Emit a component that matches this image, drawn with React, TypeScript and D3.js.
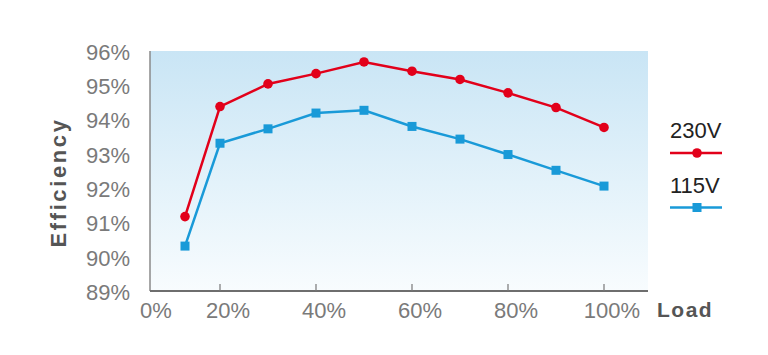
import React from "react";
import * as d3 from "d3";

const loads = [10, 20, 30, 40, 50, 60, 70, 80, 90, 100];
const eff230 = [91.17, 94.38, 95.04, 95.34, 95.68, 95.41, 95.17, 94.78, 94.35, 93.77];
const eff115 = [90.31, 93.31, 93.73, 94.19, 94.27, 93.8, 93.43, 92.98, 92.52, 92.06];
const xTicks = [0, 20, 40, 60, 80, 100];
const yTicks = [89, 90, 91, 92, 93, 94, 95, 96];
const seriesNames = ["230V", "115V"];

const W = 768;
const H = 355;
const left = 150;
const right = 648;
const top = 51;
const bottom = 291;

const RED = "#e2001a";
const BLUE = "#199ad8";
const LABEL = "#7a7a7a";
const FONT = "'Liberation Sans', Arial, sans-serif";

export default function App() {
  const x = d3.scaleLinear().domain([0, 10, 20, 100]).range([left, 185, 220, 604]);
  const y = d3.scaleLinear().domain([89, 96]).range([bottom, top]);
  const line = d3
    .line<number>()
    .x((_, i) => x(loads[i]))
    .y((d) => y(d));

  return (
    <svg
      width={W}
      height={H}
      style={{ position: "absolute", left: 0, top: 0, background: "#fff" }}
      fontFamily={FONT}
    >
      <defs>
        <linearGradient id="bg" x1="0" y1="0" x2="0" y2="1">
          <stop offset="0%" stopColor="#c9e5f5" />
          <stop offset="55%" stopColor="#e3f2fa" />
          <stop offset="100%" stopColor="#f8fcfe" />
        </linearGradient>
        <linearGradient id="gridFade" x1="0" y1="0" x2="1" y2="0">
          <stop offset="0%" stopColor="#a9a9a9" />
          <stop offset="92%" stopColor="#ababab" />
          <stop offset="100%" stopColor="#d8d8d8" />
        </linearGradient>
      </defs>
      <rect x={left} y={top} width={right - left} height={bottom - top} fill="url(#bg)" />
      {yTicks.slice(1).map((t) => (
        <line
          key={t}
          x1={left}
          x2={right}
          y1={y(t)}
          y2={y(t)}
          stroke="url(#gridFade)"
          strokeWidth={1.5}
        />
      ))}
      <line x1={left} x2={left} y1={top} y2={bottom} stroke="#8a8a8a" strokeWidth={1.5} />
      <line x1={left} x2={right} y1={bottom} y2={bottom} stroke="#6e6e6e" strokeWidth={2} />
      {xTicks.slice(1).map((t) => (
        <line key={t} x1={x(t)} x2={x(t)} y1={bottom} y2={bottom - 7} stroke="#777" strokeWidth={1.2} />
      ))}
      {yTicks.map((t) => (
        <text
          key={t}
          x={130}
          y={y(t) + 3}
          textAnchor="end"
          dominantBaseline="middle"
          fontSize={22}
          fill={LABEL}
        >
          {t}%
        </text>
      ))}
      {xTicks.map((t) => (
        <text key={t} x={x(t) + (t === 0 ? 6 : 8)} y={318} textAnchor="middle" fontSize={22} fill={LABEL}>
          {t}%
        </text>
      ))}
      <text x={657} y={317} fontSize={21} fontWeight="bold" fill="#555" letterSpacing={1.5}>
        Load
      </text>
      <text
        transform={`translate(66,${(117 + 248) / 2}) rotate(-90)`}
        textAnchor="middle"
        fontSize={22}
        fontWeight="bold"
        fill="#555"
        letterSpacing={2.6}
      >
        Efficiency
      </text>

      <path d={line(eff230) || ""} fill="none" stroke={RED} strokeWidth={2.5} />
      <path d={line(eff115) || ""} fill="none" stroke={BLUE} strokeWidth={2.5} />
      {eff230.map((v, i) => (
        <circle key={i} cx={x(loads[i])} cy={y(v)} r={4.8} fill={RED} />
      ))}
      {eff115.map((v, i) => (
        <rect key={i} x={x(loads[i]) - 4.5} y={y(v) - 4.5} width={9} height={9} fill={BLUE} />
      ))}

      <text x={670} y={138} fontSize={22} fill="#222">
        {seriesNames[0]}
      </text>
      <line x1={670} x2={722} y1={153} y2={153} stroke={RED} strokeWidth={2.5} />
      <circle cx={697} cy={153} r={4.8} fill={RED} />
      <text x={670} y={193} fontSize={22} fill="#222">
        {seriesNames[1]}
      </text>
      <line x1={670} x2={722} y1={207.5} y2={207.5} stroke={BLUE} strokeWidth={2.5} />
      <rect x={692.5} y={203} width={9} height={9} fill={BLUE} />
    </svg>
  );
}
